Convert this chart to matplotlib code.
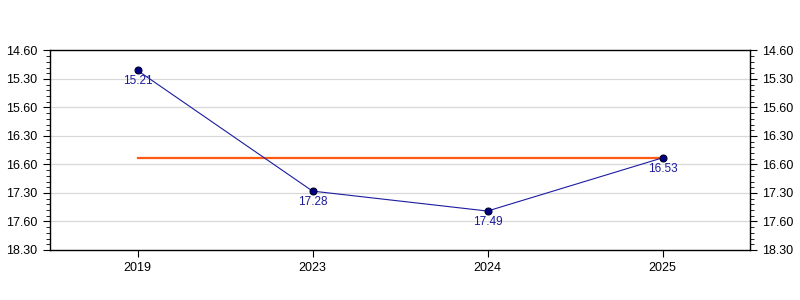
import matplotlib.pyplot as plt
import numpy as np
from matplotlib.ticker import MultipleLocator

# times shown as minutes.seconds
years = ['2019', '2023', '2024', '2025']
minutes = [15, 17, 17, 16]
seconds = [21, 28, 49, 53]
avg_minutes, avg_seconds = 16, 53

# tick labels as printed on the original axis
ytick_values = [15.0, 15.5, 16.0, 16.5, 17.0, 17.5, 18.0, 18.5]
ytick_labels = ['14.60', '15.30', '15.60', '16.30', '16.60', '17.30', '17.60', '18.30']

values = np.array(minutes) + np.array(seconds) / 60
point_labels = [f'{m}.{s:02d}' for m, s in zip(minutes, seconds)]
avg_value = avg_minutes + avg_seconds / 60

plt.rcParams['font.family'] = ['Liberation Sans', 'DejaVu Sans']

fig = plt.figure(figsize=(8, 3), dpi=100)
ax = fig.add_axes([0.0625, 0.1667, 0.875, 0.665])

x = np.arange(len(years))

# grid lines
for v in ytick_values[1:-1]:
    ax.axhline(v, color='#d9d9d9', linewidth=0.9, zorder=0)

# average line
ax.plot([x[0], x[-1]], [avg_value, avg_value], color='#ff5a14', linewidth=1.6, zorder=2)

# series
ax.plot(x, values, color='#1c1ca0', linewidth=0.8, zorder=3)
ax.plot(x, values, 'o', color='#000080', markeredgecolor='#000030',
        markersize=5, markeredgewidth=0.8, zorder=4)

for xi, v, lab in zip(x, values, point_labels):
    ax.annotate(lab, (xi, v), xytext=(0, -3.5), textcoords='offset points',
                ha='center', va='top', fontsize=8.5, color='#1a1a9a')

ax.set_xlim(-0.5, len(years) - 0.5)
ax.set_ylim(ytick_values[-1], ytick_values[0])
ax.set_xticks(x)
ax.set_xticklabels(years, fontsize=9)
ax.set_yticks(ytick_values)
ax.set_yticklabels(ytick_labels, fontsize=9)
ax.yaxis.set_minor_locator(MultipleLocator(0.1))

ax.tick_params(axis='y', which='major', length=5, width=0.8, direction='out',
               left=True, right=True, labelleft=True, labelright=True, pad=4)
ax.tick_params(axis='y', which='minor', length=3, width=0.6, direction='out',
               left=True, right=True)
ax.tick_params(axis='x', which='major', length=5, width=0.8, direction='out', pad=4)

for s in ax.spines.values():
    s.set_linewidth(1)
    s.set_color('black')

plt.savefig('out.png', dpi=100)
